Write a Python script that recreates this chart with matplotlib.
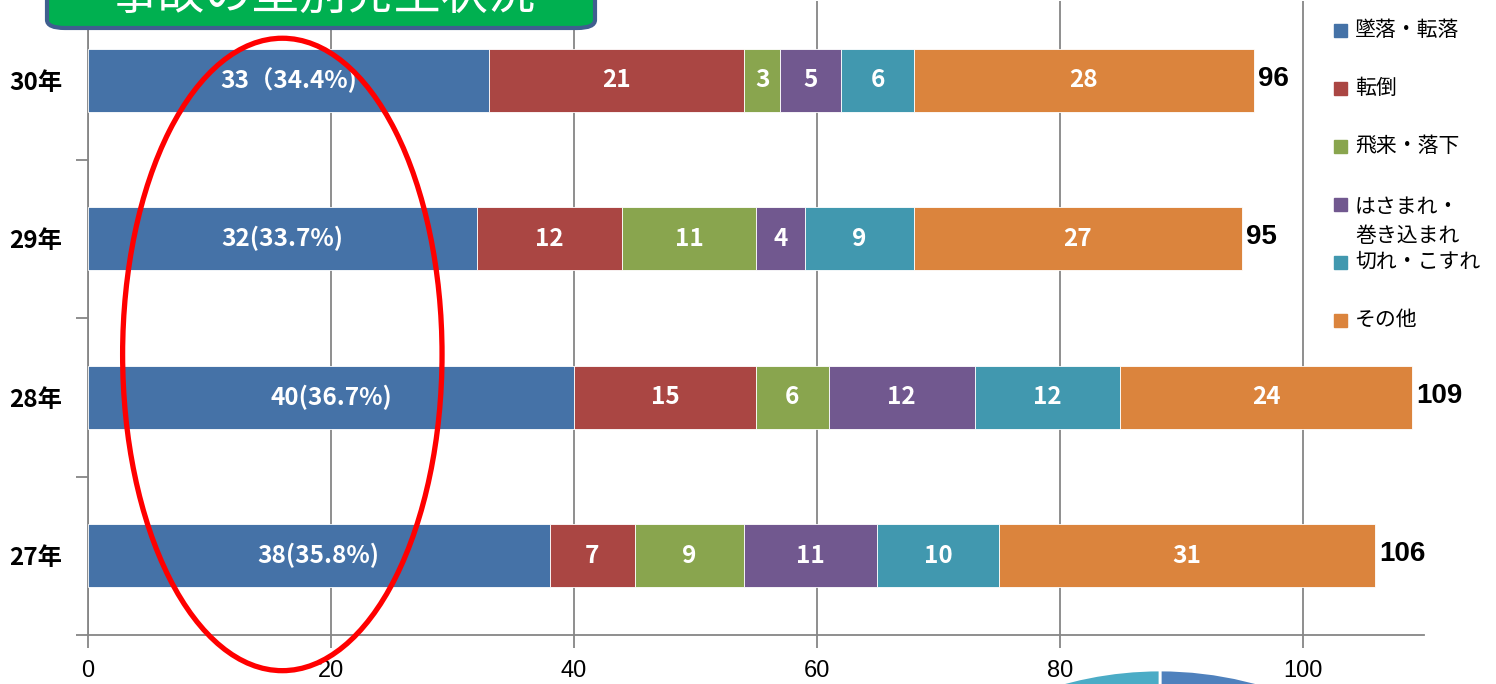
import numpy as np
import matplotlib
matplotlib.use('Agg')
import matplotlib.pyplot as plt
from matplotlib.patches import Ellipse, FancyBboxPatch, Rectangle

plt.rcParams['font.family'] = ['Noto Sans CJK JP', 'DejaVu Sans']

# 年度 (下から上)
years = ['27年', '28年', '29年', '30年']
fall = [38, 40, 32, 33]        # 墜落・転落
fallover = [7, 15, 12, 21]     # 転倒
flying = [9, 6, 11, 3]         # 飛来・落下
caught = [11, 12, 4, 5]        # はさまれ・巻き込まれ
cut = [10, 12, 9, 6]           # 切れ・こすれ
other = [31, 24, 27, 28]       # その他
fall_labels = ['38(35.8%)', '40(36.7%)', '32(33.7%)', '33（34.4%)']

series_names = ['墜落・転落', '転倒', '飛来・落下', 'はさまれ・\n巻き込まれ', '切れ・こすれ', 'その他']
colors = ['#4572A7', '#AA4643', '#89A54E', '#71588F', '#4198AF', '#DB843D']
x_ticks = [0, 20, 40, 60, 80, 100]

pie_values = [30, 45, 25]
pie_colors = ['#4F81BD', '#C0504D', '#4BACC6']

series = [fall, fallover, flying, caught, cut, other]

fig = plt.figure(figsize=(14.96, 6.84), dpi=100)
ax = fig.add_axes([88/1496, 49/684, (1424-88)/1496, 634/684])

y = np.arange(len(years))
left = np.zeros(len(years))
for i, vals in enumerate(series):
    ax.barh(y, vals, left=left, height=0.4, color=colors[i], edgecolor='white', linewidth=0.6, zorder=3)
    for j, v in enumerate(vals):
        lab = fall_labels[j] if i == 0 else str(v)
        ax.text(left[j] + v/2, y[j], lab, ha='center', va='center', color='white',
                fontsize=17.5, fontweight='bold', zorder=4)
    left += np.array(vals)

totals = left
for j, t in enumerate(totals):
    ax.text(t + 0.35, y[j] + 0.01, str(int(t)), ha='left', va='center', fontsize=20,
            fontweight='bold', family='Liberation Sans', color='black')

ax.set_xlim(0, 110)
ax.set_ylim(-0.5, 3.5)
ax.set_xticks(x_ticks)
ax.set_xticklabels([str(v) for v in x_ticks], family='Liberation Sans', fontsize=17)
ax.set_yticks(y)
ax.set_yticklabels(years, fontsize=17.5, fontweight='bold')
ax.set_yticks([-0.5, 0.5, 1.5, 2.5, 3.5], minor=True)
ax.tick_params(axis='y', which='major', length=0, pad=18.5)
ax.tick_params(axis='y', which='minor', length=9, color='#868686', width=1.3)
ax.tick_params(axis='x', length=9, color='#868686', width=1.3, pad=9)
ax.grid(axis='x', color='#868686', linewidth=1.3, zorder=0)
ax.set_axisbelow(True)
for s in ['top', 'right']:
    ax.spines[s].set_visible(False)
for s in ['left', 'bottom']:
    ax.spines[s].set_color('#868686')
    ax.spines[s].set_linewidth(1.3)

# 赤い楕円
ax.add_patch(Ellipse((16.0, 1.27), 26.3, 3.99, fill=False, edgecolor='red', linewidth=3.8,
                     clip_on=False, zorder=6))

# 凡例
leg_y = [30, 88, 146, 204, 262, 320]
for i, name in enumerate(series_names):
    fy = 1 - leg_y[i]/684
    fig.patches.append(Rectangle((1334/1496, fy - 7/684), 13/1496, 13/684, color=colors[i],
                                 transform=fig.transFigure, figure=fig))
    if '\n' in name:
        fig.text(1355/1496, fy + 8/684, name, ha='left', va='top', fontsize=15, linespacing=1.4)
    else:
        fig.text(1355/1496, fy, name, ha='left', va='center', fontsize=15)

# タイトル枠 (上部が切れている)
box = FancyBboxPatch((47/1496, 1 - 28/684), 548/1496, 90/684,
                     boxstyle='round,pad=0,rounding_size=0.012', transform=fig.transFigure,
                     facecolor='#00B050', edgecolor='#3F5F8F', linewidth=3, zorder=10)
fig.patches.append(box)
fig.text(323/1496, 1 + 4/684, '事故の型別発生状況', ha='center', va='center', color='white',
         fontsize=34, zorder=11)

# 右下の円グラフ (一部のみ表示)
pax = fig.add_axes([(1160-365)/1496, (684-1035-365)/684, 730/1496, 730/684])
pax.pie(pie_values, colors=pie_colors, startangle=90, counterclock=False,
        wedgeprops=dict(edgecolor='white', linewidth=2))
pax.set_xlim(-1, 1)
pax.set_ylim(-1, 1)
pax.set_aspect('equal')
pax.axis('off')

fig.savefig('out.png', dpi=100)
